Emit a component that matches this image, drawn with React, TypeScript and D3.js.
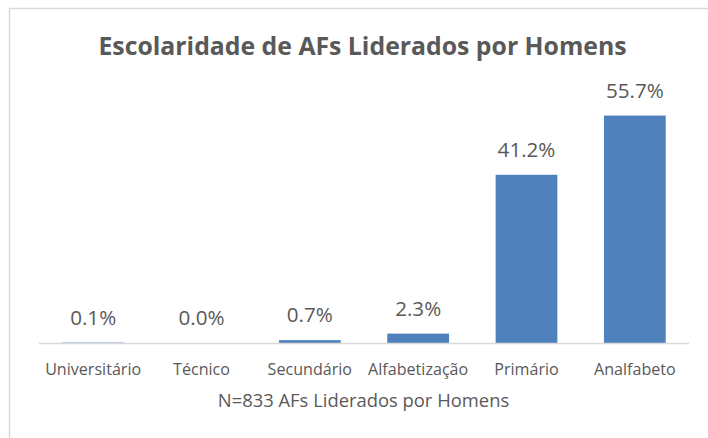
import React from 'react';
import * as d3 from 'd3';

const categories = ['Universitário', 'Técnico', 'Secundário', 'Alfabetização', 'Primário', 'Analfabeto'];
const values = [0.1, 0.0, 0.7, 2.3, 41.2, 55.7];
const title = 'Escolaridade de AFs Liderados por Homens';
const axisTitle = 'N=833 AFs Liderados por Homens';

const App: React.FC = () => {
    const width = 708;
    const height = 438;
    const font = '"Open Sans", sans-serif';
    const textColor = '#595959';

    const x = d3.scaleBand<string>()
        .domain(categories)
        .range([39, 689])
        .paddingInner(0.43)
        .paddingOuter(0.215);

    const y = d3.scaleLinear()
        .domain([0, 60])
        .range([343, 98]);

    return (
        <svg
            width={width}
            height={height}
            style={{ position: 'absolute', left: 0, top: 0 }}
        >
            <rect x={0} y={0} width={width} height={height} fill="#ffffff" />
            {/* chart area border, clipped at the right and bottom */}
            <rect x={9.5} y={8.5} width={width} height={height} fill="#ffffff" stroke="#d9d9d9" strokeWidth={1.5} />

            <text
                x={362.5}
                y={55}
                textAnchor="middle"
                fontFamily={font}
                fontWeight="bold"
                fontSize={24.8}
                fill={textColor}
            >
                {title}
            </text>

            {categories.map((c, i) => (
                <rect
                    key={c}
                    x={x(c)}
                    y={y(values[i])}
                    width={x.bandwidth()}
                    height={y(0) - y(values[i])}
                    fill="#4f81bd"
                />
            ))}

            <line x1={39} x2={689} y1={343.5} y2={343.5} stroke="#d9d9d9" strokeWidth={1.5} />

            {categories.map((c, i) => (
                <text
                    key={c + '-v'}
                    x={(x(c) ?? 0) + x.bandwidth() / 2}
                    y={y(values[i]) - 18}
                    textAnchor="middle"
                    fontFamily={font}
                    fontSize={20.6}
                    fill={textColor}
                >
                    {values[i].toFixed(1) + '%'}
                </text>
            ))}

            {categories.map(c => (
                <text
                    key={c + '-l'}
                    x={(x(c) ?? 0) + x.bandwidth() / 2}
                    y={375}
                    textAnchor="middle"
                    fontFamily={font}
                    fontSize={16.1}
                    fill={textColor}
                >
                    {c}
                </text>
            ))}

            <text
                x={363.5}
                y={407}
                textAnchor="middle"
                fontFamily={font}
                fontSize={18.4}
                fill={textColor}
            >
                {axisTitle}
            </text>
        </svg>
    );
};

export default App;
